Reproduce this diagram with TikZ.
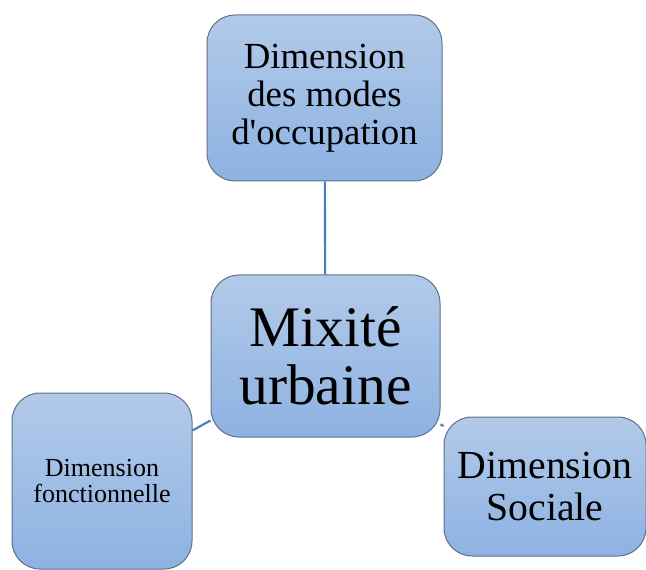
\documentclass[tikz,border=0pt]{standalone}
\usepackage{fontspec}
\setmainfont{Liberation Serif}
\usepackage{tikz}
\usetikzlibrary{positioning}

\definecolor{boxtop}{RGB}{178,202,233}
\definecolor{boxbot}{RGB}{141,178,226}
\definecolor{boxline}{RGB}{96,112,136}
\definecolor{linkcol}{RGB}{72,126,188}

\tikzset{
  dimbox/.style={draw=boxline, line width=0.75pt, rounded corners=21pt,
    top color=boxtop, bottom color=boxbot, align=center, inner sep=0pt},
  link/.style={draw=linkcol, line width=1.6pt}
}

\begin{document}
\begin{tikzpicture}[x=0.75pt,y=0.75pt,yscale=-1,xscale=1]
%set diagram left start at 0, and has height of 570
\useasboundingbox (0,0) rectangle (646,570);

%Shape: Rounded Rect [id:centre]
\node (mixite) [dimbox, minimum width=171.75pt, minimum height=121.5pt,
  font=\fontsize{43}{44}\selectfont] at (325.5,356) {Mixité\\urbaine};
%Shape: Rounded Rect [id:occupation]
\node (occup) [dimbox, minimum width=176.25pt, minimum height=124.5pt,
  font=\fontsize{27.6}{28.5}\selectfont] at (324.5,98)
  {Dimension\\des modes\\d\textquotesingle occupation};
%Shape: Rounded Rect [id:fonctionnelle]
\node (fonct) [dimbox, minimum width=135pt, minimum height=132pt,
  font=\fontsize{19.5}{19}\selectfont] at (102,481) {Dimension\\fonctionnelle};
%Shape: Rounded Rect [id:sociale]
\node (sociale) [dimbox, minimum width=151.5pt, minimum height=104.25pt,
  font=\fontsize{29.8}{31}\selectfont] at (545,486.5) {Dimension\\Sociale};

%Straight Lines
\draw [link] (mixite) -- (occup);
\draw [link] (mixite) -- (fonct);
\draw [link] (mixite) -- (sociale);

\end{tikzpicture}
\end{document}
